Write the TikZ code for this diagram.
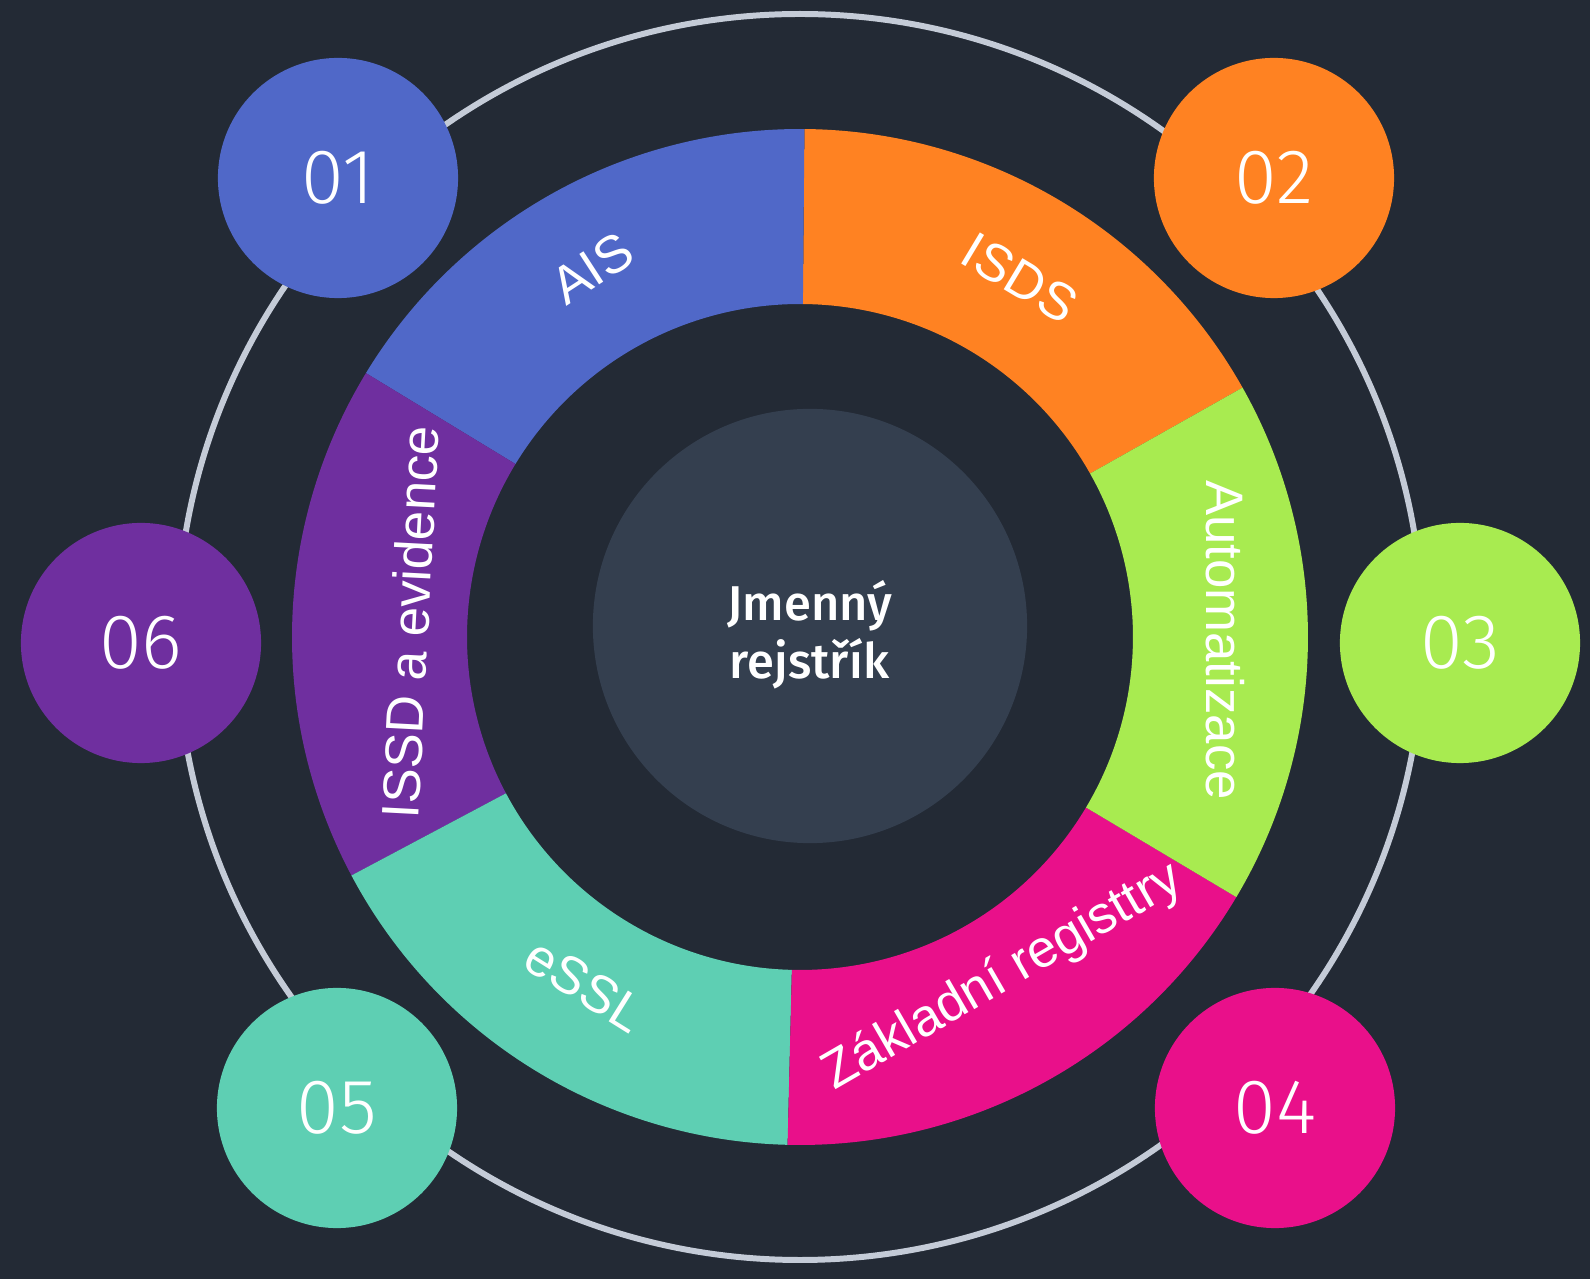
\documentclass[tikz,border=0pt]{standalone}
\usepackage{fontspec}
\setmainfont{Liberation Sans}
\newfontfamily\numfont{Fira Sans Light}
\newfontfamily\midfont{Fira Sans Medium}
\usepackage{tikz}
\usetikzlibrary{positioning,calc}

\definecolor{bgdark}{HTML}{232A35}
\definecolor{hubgray}{HTML}{343F4F}
\definecolor{railgray}{HTML}{C4CBD7}
\definecolor{aisblue}{HTML}{5068C8}
\definecolor{isdsorange}{HTML}{FF8222}
\definecolor{autogreen}{HTML}{A8EB50}
\definecolor{zrmagenta}{HTML}{E9108A}
\definecolor{essteal}{HTML}{5ECFB3}
\definecolor{issdpurple}{HTML}{6F2F9F}

\tikzset{
  numdot/.style={circle, minimum size=2.4cm, inner sep=0pt, text=white, font=\numfont\fontsize{22}{26}\selectfont},
  seglabel/.style={text=white, inner sep=0pt, font=\fontsize{15}{18}\selectfont}
}

\begin{document}
\begin{tikzpicture}[x=0.01cm,y=0.01cm]
\fill[bgdark] (-800,-642) rectangle (790,637);
\useasboundingbox (-800,-642) rectangle (790,637);

% outer rail
\draw[railgray, line width=1.7pt] (0,0) circle[radius=623];

% ring segments
\fill[isdsorange] (29.4:333) -- (29.4:508) arc[start angle=29.4, end angle=89.5, radius=508] -- (89.5:333) arc[start angle=89.5, end angle=29.4, radius=333] -- cycle;
\fill[aisblue] (89.5:333) -- (89.5:508) arc[start angle=89.5, end angle=148.7, radius=508] -- (148.7:333) arc[start angle=148.7, end angle=89.5, radius=333] -- cycle;
\fill[issdpurple] (148.7:333) -- (148.7:508) arc[start angle=148.7, end angle=208, radius=508] -- (208:333) arc[start angle=208, end angle=148.7, radius=333] -- cycle;
\fill[essteal] (208:333) -- (208:508) arc[start angle=208, end angle=268.6, radius=508] -- (268.6:333) arc[start angle=268.6, end angle=208, radius=333] -- cycle;
\fill[zrmagenta] (268.6:333) -- (268.6:508) arc[start angle=268.6, end angle=329.2, radius=508] -- (329.2:333) arc[start angle=329.2, end angle=268.6, radius=333] -- cycle;
\fill[autogreen] (-30.8:333) -- (-30.8:508) arc[start angle=-30.8, end angle=29.4, radius=508] -- (29.4:333) arc[start angle=29.4, end angle=-30.8, radius=333] -- cycle;

% hub
\node at (10,11) [circle, fill=hubgray, minimum size=4.34cm, inner sep=0pt] (hub) {};
\node at (10,2) [align=center, text=white, font=\midfont\fontsize{13.9}{16.6}\selectfont] (hubtext) {Jmenný\\rejstřík};

% segment labels
\node at (-208,369) [seglabel, rotate=33] (lAIS) {AIS};
\node at (220,359) [seglabel, rotate=-31] (lISDS) {ISDS};
\node at (425,-3) [seglabel, rotate=-90] (lAuto) {Automatizace};
\node at (203,-340) [seglabel, rotate=30] (lZR) {Základní registtry};
\node at (-215,-348) [seglabel, rotate=-32] (leSSL) {eSSL};
\node at (-390,15) [seglabel, rotate=87] (lISSD) {ISSD a evidence};

% numbered dots
\node at (-462,459) [numdot, fill=aisblue] (n1) {01};
\node at (474,459) [numdot, fill=isdsorange] (n2) {02};
\node at (660,-6) [numdot, fill=autogreen] (n3) {03};
\node at (475,-471) [numdot, fill=zrmagenta] (n4) {04};
\node at (-463,-471) [numdot, fill=essteal] (n5) {05};
\node at (-659,-6) [numdot, fill=issdpurple] (n6) {06};

\end{tikzpicture}
\end{document}
